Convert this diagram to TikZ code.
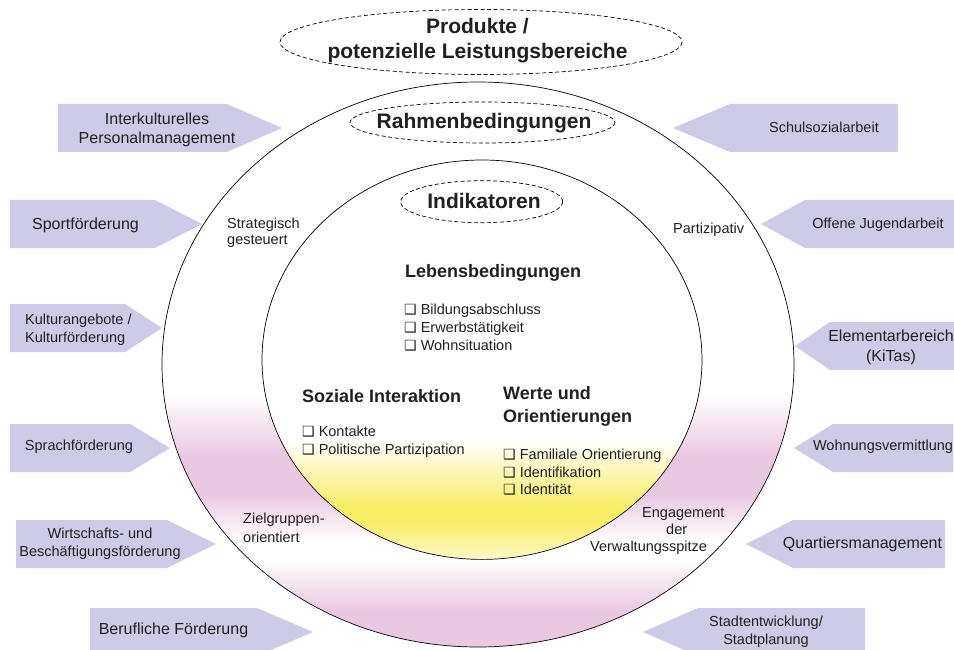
\documentclass[tikz,border=0pt]{standalone}
\usepackage{fontspec}
\setmainfont{Liberation Sans}
\newfontfamily\dejavu{DejaVu Sans}
\definecolor{arrowfill}{RGB}{206,203,230}
\definecolor{ringpink}{RGB}{233,201,226}
\definecolor{coreyellow}{RGB}{247,238,104}
\definecolor{txt}{RGB}{35,31,32}
\newcommand{\cbx}{{\dejavu\fontsize{14}{14}\selectfont ❑}\hspace{4pt}}
\begin{document}
\begin{tikzpicture}[x=1pt,y=-1pt,
  every node/.style={text=txt, inner sep=0pt, font=\fontsize{14.5}{18}\selectfont},
  largetext/.style={font=\fontsize{16}{19}\selectfont},
  arrowshape/.style={fill=arrowfill},
  ringline/.style={draw=black, line width=0.7pt},
  dashell/.style={draw=black, line width=0.7pt, dash pattern=on 4pt off 2.5pt},
  bigtitle/.style={font=\bfseries\fontsize{21}{25}\selectfont, align=center},
  subhead/.style={font=\bfseries\fontsize{18}{23}\selectfont, align=left, anchor=west},
  listtext/.style={align=left, anchor=west}]
\useasboundingbox (0,0) rectangle (954,650);
\fill[white] (0,0) rectangle (954,650);

% outer ring shading
\begin{scope}
\clip (478,364.5) ellipse [x radius=316, y radius=282.5];
\shade[top color=white,bottom color=ringpink] (150,395) rectangle (810,455);
\fill[ringpink] (150,454.8) rectangle (810,495.2);
\shade[top color=ringpink,bottom color=white] (150,495) rectangle (810,540);
\shade[top color=white,bottom color=ringpink] (150,560) rectangle (810,610);
\fill[ringpink] (150,609.8) rectangle (810,660);
\end{scope}
% inner core shading
\fill[white] (482,359.7) ellipse [x radius=220, y radius=199.7];
\begin{scope}
\clip (482,359.7) ellipse [x radius=220, y radius=199.7];
\shade[top color=white,bottom color=coreyellow] (250,440) rectangle (710,505);
\fill[coreyellow] (250,504.8) rectangle (710,523.2);
\shade[top color=coreyellow,bottom color=white!70!coreyellow] (250,523) rectangle (710,562);
\end{scope}

\draw[ringline] (478,364.5) ellipse [x radius=316, y radius=282.5];
\draw[ringline] (482,359.7) ellipse [x radius=220, y radius=199.7];

% dashed ellipses
\draw[dashell] (481,42) ellipse [x radius=201, y radius=32.5];
\draw[dashell] (482.5,122.5) ellipse [x radius=132.5, y radius=20.5];
\draw[dashell] (481.7,201.7) ellipse [x radius=81, y radius=21];

\node[bigtitle] (prod) at (477.5,40.5) {Produkte /\\potenzielle Leistungsbereiche};
\node[bigtitle] (rahmen) at (484,123) {Rahmenbedingungen};
\node[bigtitle] (indik) at (484,201) {Indikatoren};

% left arrows
\fill[arrowshape] (58,104) -- (227,104) -- (282,128) -- (227,152) -- (58,152) -- cycle;
\fill[arrowshape] (10,200) -- (155,200) -- (202,224) -- (155,248) -- (10,248) -- cycle;
\fill[arrowshape] (10,304) -- (125,304) -- (162,328) -- (125,352) -- (10,352) -- cycle;
\fill[arrowshape] (10,424) -- (130,424) -- (170,448) -- (130,472) -- (10,472) -- cycle;
\fill[arrowshape] (16,520) -- (167,520) -- (216,544) -- (167,568) -- (16,568) -- cycle;
\fill[arrowshape] (90,608) -- (257,608) -- (313,632) -- (257,656) -- (90,656) -- cycle;
% right arrows
\fill[arrowshape] (673,128) -- (730,104) -- (898,104) -- (898,152) -- (730,152) -- cycle;
\fill[arrowshape] (761,224) -- (805,200) -- (960,200) -- (960,248) -- (805,248) -- cycle;
\fill[arrowshape] (795,346) -- (830,322) -- (960,322) -- (960,370) -- (830,370) -- cycle;
\fill[arrowshape] (794,448) -- (833,424) -- (953,424) -- (953,472) -- (833,472) -- cycle;
\fill[arrowshape] (746,544) -- (793,520) -- (945,520) -- (945,568) -- (793,568) -- cycle;
\fill[arrowshape] (643,632) -- (698,608) -- (865,608) -- (865,656) -- (698,656) -- cycle;

% left arrow texts
\node[largetext, align=center] (ikp) at (157,130) {Interkulturelles\\Personalmanagement};
\node[largetext] (sport) at (85.5,225) {Sportförderung};
\node[listtext] (kultur) at (25,329.5) {Kulturangebote /\\Kulturförderung};
\node (sprach) at (79,447) {Sprachförderung};
\node[align=center] (wirt) at (100,544) {Wirtschafts- und\\Beschäftigungsförderung};
\node[largetext] (beruf) at (173.5,630) {Berufliche Förderung};
% right arrow texts
\node (schul) at (824,127) {Schulsozialarbeit};
\node (offen) at (878,225) {Offene Jugendarbeit};
\node[align=center, font=\fontsize{16}{20}\selectfont] (elem) at (891,347) {Elementarbereich\\(KiTas)};
\node (wohn) at (883,447) {Wohnungsvermittlung};
\node[largetext] (quart) at (862.5,544) {Quartiersmanagement};
\node[align=center] (stadt) at (766,632) {Stadtentwicklung/\\Stadtplanung};

% ring labels
\node[listtext, font=\fontsize{14.5}{16}\selectfont] (strat) at (227,233) {Strategisch\\gesteuert};
\node[listtext] (partiz) at (673,230) {Partizipativ};
\node[listtext, font=\fontsize{14.5}{19}\selectfont] (ziel) at (243,527.5) {Zielgruppen-\\orientiert};
\node[listtext, font=\fontsize{14.5}{17}\selectfont] (engag) at (590,531) {\hspace*{52pt}Engagement\\\hspace*{76pt}der\\Verwaltungsspitze};

% core contents
\node[font=\bfseries\fontsize{18}{23}\selectfont] (leben) at (493,273) {Lebensbedingungen};
\node[listtext] (lebenlist) at (404,328) {\cbx Bildungsabschluss\\\cbx Erwerbstätigkeit\\\cbx Wohnsituation};
\node[subhead] (sozial) at (302,396) {Soziale Interaktion};
\node[listtext] (soziallist) at (302,442) {\cbx Kontakte\\\cbx Politische Partizipation};
\node[subhead] (werte) at (503,406.5) {Werte und\\Orientierungen};
\node[listtext, font=\fontsize{14.5}{17.5}\selectfont] (wertelist) at (503,472.5) {\cbx Familiale Orientierung\\\cbx Identifikation\\\cbx Identität};
\end{tikzpicture}
\end{document}
